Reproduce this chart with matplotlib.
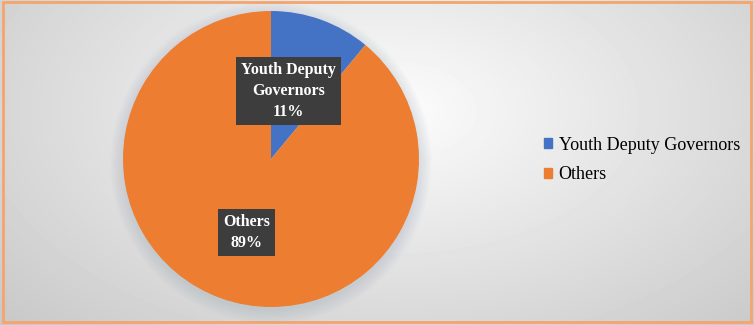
import numpy as np
import matplotlib.pyplot as plt
from matplotlib.patches import Rectangle, Circle

# share of deputy governors
labels = ["Youth Deputy Governors", "Others"]
box_labels = ["Youth Deputy\nGovernors", "Others"]
values = [11, 89]
colors = ["#4472C4", "#ED7D31"]

plt.rcParams['font.family'] = ['Liberation Serif', 'DejaVu Serif']

W, H = 754, 325
fig = plt.figure(figsize=(W / 100, H / 100), dpi=100)

# soft radial grey background
bg = fig.add_axes([0, 0, 1, 1])
yy, xx = np.mgrid[0:H, 0:W]
d = np.sqrt(((xx - 390) / 520.0) ** 2 + ((yy - 110) / 300.0) ** 2)
shade = np.clip(0.99 - 0.2 * d, 0.78, 1.0)
bg.imshow(shade, cmap='gray', vmin=0, vmax=1, extent=[0, W, H, 0], aspect='auto')
bg.add_patch(Rectangle((3, 2), W - 6, H - 5, fill=False, edgecolor="#F4A46C", lw=2))
bg.set_xlim(0, W)
bg.set_ylim(H, 0)
bg.axis('off')

# pie: centre (271, 159) px, radius 148 px
cx, cy, r = 271, 159, 148
half = 152
ax = fig.add_axes([(cx - half) / W, (H - cy - half) / H, 2 * half / W, 2 * half / H])

# faint shadow behind the pie
for k in range(8):
    ax.add_patch(Circle((0.0, -0.025), 1.0 + 0.012 * k, color="#8c9db3",
                        alpha=0.035, lw=0, zorder=0, clip_on=False))

wedges, _ = ax.pie(values, colors=colors, startangle=90, counterclock=False,
                   radius=1.0, wedgeprops=dict(linewidth=0))
for w in wedges:
    w.set_zorder(2)

lim = half / r
ax.set_xlim(-lim, lim)
ax.set_ylim(-lim, lim)
ax.set_aspect('equal')
ax.axis('off')

total = sum(values)
offsets = [(-0.05, 0.0), (0.0, -0.035)]
for w, lab, v, off in zip(wedges, box_labels, values, offsets):
    mid = np.deg2rad((w.theta1 + w.theta2) / 2)
    rr = 0.49
    x = rr * np.cos(mid) + off[0]
    y = rr * np.sin(mid) + off[1]
    ax.text(x, y, f"{lab}\n{round(100 * v / total)}%", ha='center', va='center',
            color='white', fontsize=11.5, fontweight='bold', linespacing=1.4,
            zorder=5,
            bbox=dict(boxstyle='square,pad=0.32', facecolor='#3d3d3d',
                      edgecolor='none'))

handles = [Rectangle((0, 0), 1, 1, color=c) for c in colors]
fig.legend(handles, labels, loc='center left', bbox_to_anchor=(528 / W, 1 - 160 / H),
           frameon=False, fontsize=13, handlelength=0.45, handleheight=0.45,
           handletextpad=0.35, labelspacing=0.7)

fig.savefig("out.png", dpi=100)
